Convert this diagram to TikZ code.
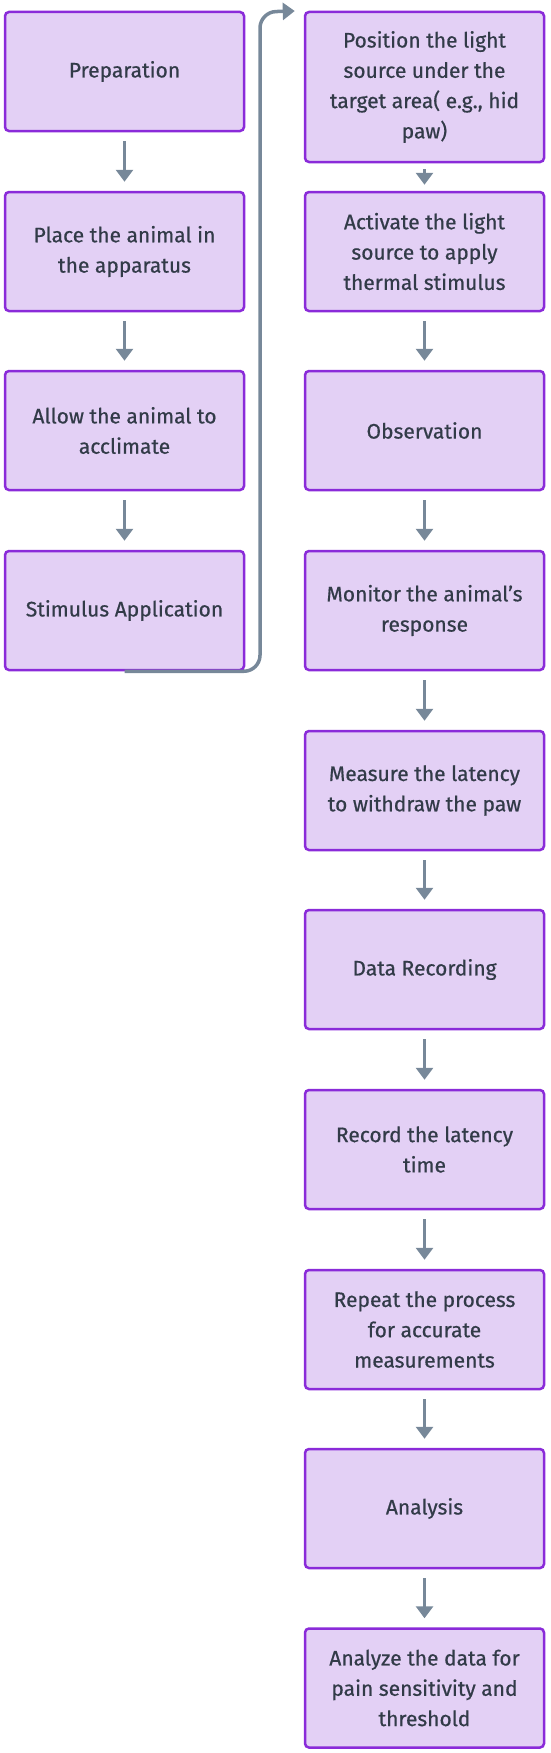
\documentclass[tikz,border=0pt]{standalone}
\usepackage{fontspec}
\setmainfont{Fira Sans}[FakeBold=0.6]
\usetikzlibrary{arrows.meta}
\definecolor{boxfill}{HTML}{E3D0F5}
\definecolor{boxline}{HTML}{8A2BD9}
\definecolor{txt}{HTML}{323B48}
\definecolor{arrcol}{HTML}{778899}
\tikzset{
  stepbox/.style={draw=boxline, fill=boxfill, line width=2.5pt, rounded corners=4pt,
    minimum width=239pt, minimum height=119pt, align=center, text=txt,
    font=\fontsize{21}{30.3}\selectfont, inner sep=0pt},
  arr/.style={draw=arrcol, line width=3.5pt, -{Triangle[width=17pt,length=12pt]},
    shorten <=9pt, shorten >=9pt},
}
\begin{document}
\begin{tikzpicture}[x=1pt,y=-1pt]
\useasboundingbox (0,0) rectangle (550,1753);
% left column
\node[stepbox] (prep) at (124.5,71.5) {Preparation};
\node[stepbox] (place) at (124.5,251.5) {Place the animal in\\the apparatus};
\node[stepbox] (accl) at (124.5,430.5) {Allow the animal to\\acclimate};
\node[stepbox] (stim) at (124.5,610.5) {Stimulus Application};
% right column
\node[stepbox, minimum height=150pt] (pos) at (424.5,87) {Position the light\\source under the\\target area( e.g., hid\\paw)};
\node[stepbox] (act) at (424.5,251.5) {Activate the light\\source to apply\\thermal stimulus};
\node[stepbox] (obs) at (424.5,430.5) {Observation};
\node[stepbox] (mon) at (424.5,610.5) {Monitor the animal's\\response};
\node[stepbox] (meas) at (424.5,790.5) {Measure the latency\\to withdraw the paw};
\node[stepbox] (data) at (424.5,969.5) {Data Recording};
\node[stepbox] (rec) at (424.5,1149.5) {Record the latency\\time};
\node[stepbox] (rep) at (424.5,1329.5) {Repeat the process\\for accurate\\measurements};
\node[stepbox] (ana) at (424.5,1508.5) {Analysis};
\node[stepbox] (anad) at (424.5,1688) {Analyze the data for\\pain sensitivity and\\threshold};
% arrows
\draw[arr] (prep) -- (place);
\draw[arr] (place) -- (accl);
\draw[arr] (accl) -- (stim);
\coordinate (bend) at (260,12);
\draw[arr, shorten <=0pt, shorten >=9pt, rounded corners=16pt] (stim.south) -| (bend) -- (pos.north west);
\draw[arr, shorten <=6pt, shorten >=6pt] (pos) -- (act);
\draw[arr] (act) -- (obs);
\draw[arr] (obs) -- (mon);
\draw[arr] (mon) -- (meas);
\draw[arr] (meas) -- (data);
\draw[arr] (data) -- (rec);
\draw[arr] (rec) -- (rep);
\draw[arr] (rep) -- (ana);
\draw[arr] (ana) -- (anad);
\end{tikzpicture}
\end{document}
